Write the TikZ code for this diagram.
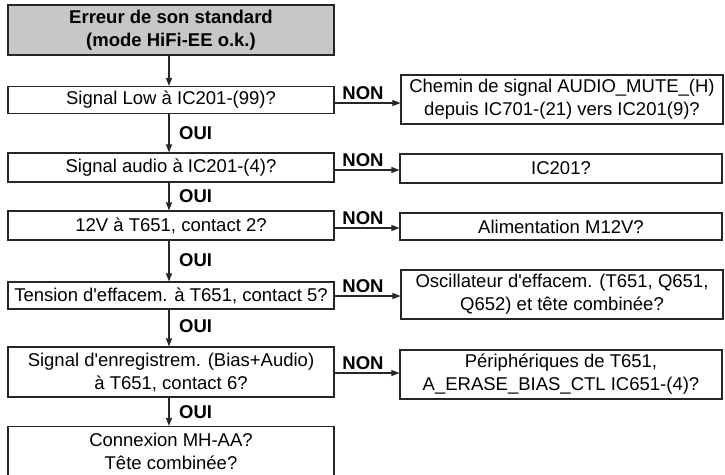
\documentclass[tikz,border=0pt]{standalone}
\usepackage{fontspec}
\setmainfont{Liberation Sans}
\usetikzlibrary{arrows.meta,calc}
\newcommand\diagfont{\fontsize{18.5}{23}\selectfont}
\begin{document}
\begin{tikzpicture}[x=1pt,y=-1pt,
  box/.style={draw=black!85, line width=1.1pt, rectangle, inner sep=0pt, align=center, font=\diagfont},
  lbox/.style={box, minimum width=326pt},
  rbox/.style={box, minimum width=322pt},
  titlebox/.style={lbox, fill=black!22, font=\diagfont\bfseries},
  lab/.style={font=\diagfont\bfseries, inner sep=1pt},
  arr/.style={draw=black!85, line width=1.1pt, -{Triangle[length=8pt,width=6pt]}}]
\useasboundingbox (0,0) rectangle (725,474);
% left column
\node[titlebox, minimum height=50pt] (top) at (171,30) {Erreur de son standard\\(mode HiFi-EE o.k.)};
\node[lbox, minimum height=27pt] (b1) at (171,100) {Signal Low à IC201-(99)?};
\node[lbox, minimum height=29pt] (b2) at (171,167.5) {Signal audio à IC201-(4)?};
\node[lbox, minimum height=29pt] (b3) at (171,225.5) {12V à T651, contact 2?};
\node[lbox, minimum height=27pt] (b4) at (171,295.5) {Tension d\textquotesingle effacem. à T651, contact 5?};
\node[lbox, minimum height=50pt] (b5) at (171,372) {Signal d\textquotesingle enregistrem. (Bias+Audio)\\à T651, contact 6?};
\node[lbox, minimum height=50pt] (b6) at (171,451.5) {Connexion MH-AA?\\Tête combinée?};
% right column
\node[rbox, minimum height=49pt] (r1) at (562,99.5) {Chemin de signal AUDIO\_MUTE\_(H)\\depuis IC701-(21) vers IC201(9)?};
\node[rbox, minimum height=29pt] (r2) at (561,168.5) {IC201?};
\node[rbox, minimum height=27pt] (r3) at (561,226.5) {Alimentation M12V?};
\node[rbox, minimum height=49pt] (r4) at (562,294.5) {Oscillateur d\textquotesingle effacem. (T651, Q651,\\Q652) et tête combinée?};
\node[rbox, minimum height=49pt] (r5) at (561,374.5) {Périphériques de T651,\\A\_ERASE\_BIAS\_CTL IC651-(4)?};
% vertical arrows
\draw[arr] ([xshift=-2pt]top.south) -- ([xshift=-2pt]b1.north);
\draw[arr] ([xshift=-2pt]b1.south) -- ([xshift=-2pt]b2.north);
\draw[arr] ([xshift=-2pt]b2.south) -- ([xshift=-2pt]b3.north);
\draw[arr] ([xshift=-2pt]b3.south) -- ([xshift=-2pt]b4.north);
\draw[arr] ([xshift=-2pt]b4.south) -- ([xshift=-2pt]b5.north);
\draw[arr] ([xshift=-2pt]b5.south) -- ([xshift=-2pt]b6.north);
% OUI labels
\node[lab, anchor=west] (o1) at (178,133) {OUI};
\node[lab, anchor=west] (o2) at (178,196.5) {OUI};
\node[lab, anchor=west] (o3) at (178,260) {OUI};
\node[lab, anchor=west] (o4) at (178,326) {OUI};
\node[lab, anchor=west] (o5) at (178,412) {OUI};
% horizontal arrows
\draw[arr] ([yshift=-3pt]b1.east) -- ([yshift=-3pt]b1.east -| r1.west);
\draw[arr] ([yshift=-2.5pt]b2.east) -- ([yshift=-2.5pt]b2.east -| r2.west);
\draw[arr] ([yshift=-2.5pt]b3.east) -- ([yshift=-2.5pt]b3.east -| r3.west);
\draw[arr] ([yshift=-0.5pt]b4.east) -- ([yshift=-0.5pt]b4.east -| r4.west);
\draw[arr] ([yshift=-1pt]b5.east) -- ([yshift=-1pt]b5.east -| r5.west);
% NON labels
\node[lab, anchor=south] (n1) at (363,101) {NON};
\node[lab, anchor=south] (n2) at (363,168) {NON};
\node[lab, anchor=south] (n3) at (363,226) {NON};
\node[lab, anchor=south] (n4) at (363,294) {NON};
\node[lab, anchor=south] (n5) at (363,371) {NON};
\end{tikzpicture}
\end{document}
